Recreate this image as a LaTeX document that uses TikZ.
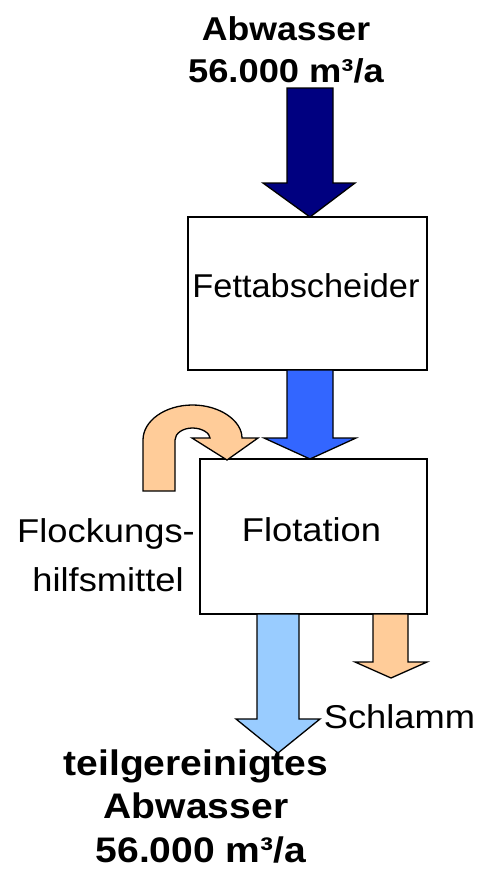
\documentclass[tikz,border=0pt]{standalone}
\usepackage{fontspec}
\setmainfont{Liberation Sans}
\definecolor{navyarrow}{RGB}{0,0,128}
\definecolor{bluearrow}{RGB}{51,102,255}
\definecolor{lightbluearrow}{RGB}{153,204,255}
\definecolor{orangearrow}{RGB}{255,204,153}
\begin{document}
\begin{tikzpicture}[x=1pt,y=-1pt,
  boxnode/.style={draw=black,line width=1.6pt,fill=white,inner sep=0pt},
  arrowshape/.style={draw=black,line width=1.3pt,line join=miter},
  lbl/.style={anchor=base,inner sep=0pt,font=\fontsize{33}{38}\selectfont},
  blbl/.style={anchor=base,inner sep=0pt,font=\fontsize{33}{38}\selectfont\bfseries},
  bblbl/.style={anchor=base,inner sep=0pt,font=\fontsize{35.5}{40}\selectfont\bfseries}]
\useasboundingbox (0,0) rectangle (481,879);
% boxes
\node[boxnode,minimum width=239pt,minimum height=153pt] (fett) at (307.5,293.5) {};
\node[boxnode,minimum width=227pt,minimum height=155pt] (flot) at (313.5,536.5) {};
% arrows
\draw[arrowshape,fill=navyarrow] (287,88) -- (333,88) -- (333,183) -- (355,183) -- (310,217) -- (263,183) -- (287,183) -- cycle;
\draw[arrowshape,fill=bluearrow] (287,370) -- (333,370) -- (333,438) -- (356,438) -- (310,459) -- (264,438) -- (287,438) -- cycle;
\draw[arrowshape,fill=lightbluearrow] (257,614) -- (299,614) -- (299,719) -- (320,719) -- (278,753) -- (236,719) -- (257,719) -- cycle;
\draw[arrowshape,fill=orangearrow] (373,614) -- (408,614) -- (408,662) -- (427,662) -- (391,678) -- (355,662) -- (373,662) -- cycle;
% curved arrow
\draw[arrowshape,fill=orangearrow] (143,491) -- (143,440)
  .. controls (143,420.7) and (165.2,405) .. (192.5,405)
  .. controls (219.8,405) and (242,420.7) .. (242,438)
  -- (258,438) -- (227,460) -- (192,438) -- (210,438)
  .. controls (210,433.4) and (202.2,428) .. (192.5,428)
  .. controls (182.8,428) and (175,433.4) .. (175,440)
  -- (175,491) -- cycle;
% texts
\node[blbl] (t1) at (286,40) {\scalebox{1.08}[1]{Abwasser}};
\node[blbl] (t2) at (286,82) {\scalebox{1.1}[1]{56.000 m³/a}};
\node[lbl] (tf) at (306,297) {\scalebox{1.04}[1]{Fettabscheider}};
\node[lbl] (tfl) at (311.5,541) {\scalebox{1.1}[1]{Flotation}};
\node[lbl] (th1) at (106,542) {\scalebox{1.1}[1]{Flockungs-}};
\node[lbl] (th2) at (108,591) {\scalebox{1.1}[1]{hilfsmittel}};
\node[lbl] (ts) at (399.5,728) {\scalebox{1.1}[1]{Schlamm}};
\node[bblbl] (b1) at (196,775) {\scalebox{1.1}[1]{teilgereinigtes}};
\node[bblbl] (b2) at (196,818) {\scalebox{1.1}[1]{Abwasser}};
\node[bblbl] (b3) at (201,862) {\scalebox{1.1}[1]{56.000 m³/a}};
\end{tikzpicture}
\end{document}
